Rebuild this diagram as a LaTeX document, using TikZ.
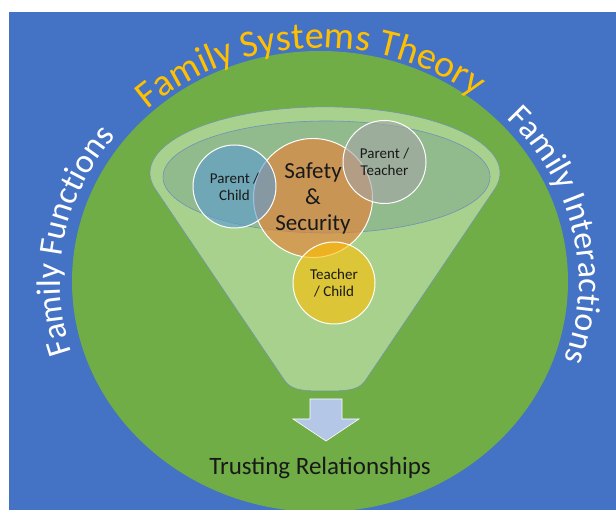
\documentclass[tikz,border=0pt]{standalone}
\usepackage{fontspec}
\setmainfont{Carlito}
\usetikzlibrary{decorations.text}
\definecolor{bgblue}{HTML}{4472C4}
\definecolor{ggreen}{HTML}{70AD47}
\definecolor{lgreen}{HTML}{A9D18E}
\definecolor{igreen}{RGB}{145,187,140}
\definecolor{gold}{HTML}{FFC000}
\definecolor{corange}{HTML}{ED7D31}
\definecolor{cblue}{HTML}{5B9BD5}
\definecolor{cgray}{HTML}{A5A5A5}
\definecolor{cyellow}{HTML}{FFC000}
\definecolor{arrowblue}{HTML}{B4C7E7}
\definecolor{edgeblue}{RGB}{110,145,185}
\tikzset{
  circ/.style={circle, inner sep=0pt, draw=white, line width=1pt,
    fill opacity=0.6, draw opacity=1, text opacity=1, text=black!90,
    align=center},
  small/.style={font=\fontsize{15}{17}\selectfont},
  big/.style={font=\fontsize{23}{26}\selectfont},
}
\begin{document}
\begin{tikzpicture}[x=1pt,y=1pt]
\useasboundingbox (0,0) rectangle (616,510);
\fill[white] (0,0) rectangle (616,510);
\fill[bgblue] (9,0) rectangle (616,498);
\begin{scope}
  \clip (9,0) rectangle (616,498);
  \fill[ggreen] (320,228.5) ellipse [x radius=248pt, y radius=230.5pt];
\end{scope}
% curved titles
\path[decorate, decoration={text along path, text align=center,
  text={|\color{gold}\fontsize{38}{40}\selectfont|Family Systems Theory}}]
  (320,228) ++(150:255pt and 234pt) arc[start angle=150, end angle=35, x radius=255pt, y radius=234pt];
\path[decorate, decoration={text along path, text align=center,
  text={|\color{white}\fontsize{34}{36}\selectfont|Family Functions}}]
  (321,228) ++(218:261pt and 236pt) arc[start angle=218, end angle=122, x radius=261pt, y radius=236pt];
\path[decorate, decoration={text along path, text align=center,
  text={|\color{white}\fontsize{34}{36}\selectfont|Family Interactions}}]
  (320,228) ++(59:259pt and 236pt) arc[start angle=59, end angle=-35, x radius=259pt, y radius=236pt];
% funnel
\filldraw[fill=lgreen, draw=edgeblue, line width=0.5pt]
  (156,320) -- (283,132) .. controls (290,120) and (300,119) .. (325,119)
  .. controls (350,119) and (360,120) .. (367,132) -- (494,320)
  arc[start angle=-15, end angle=195, x radius=175pt, y radius=66pt] -- cycle;
\filldraw[fill=igreen, draw=edgeblue, line width=0.6pt]
  (326.5,333) ellipse [x radius=163.5pt, y radius=56pt];
% circles
\node[circ, big, fill=corange, minimum size=119pt] (safety) at (313,312) {Safety\\\&\\Security};
\node[circ, small, fill=cblue, minimum size=83pt] (pc) at (234.5,323.5) {Parent /\\Child};
\node[circ, small, fill=cgray, minimum size=83pt] (pt) at (384.5,348) {Parent /\\Teacher};
\node[circ, small, fill=cyellow, minimum size=82pt] (tc) at (334,227) {Teacher\\/ Child};
% arrow
\filldraw[fill=arrowblue, draw=white, line width=0.6pt]
  (310,111) -- (342,111) -- (342,91) -- (359,91) -- (326,69) -- (293,91) -- (310,91) -- cycle;
\node[font=\fontsize{25}{28}\selectfont, text=black!90] (trust) at (320,42) {Trusting Relationships};
\end{tikzpicture}
\end{document}
